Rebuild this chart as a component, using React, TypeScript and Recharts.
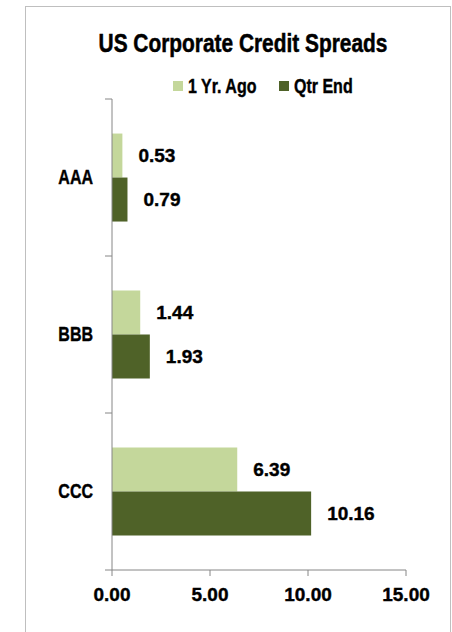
import {
  Bar,
  BarChart,
  LabelList,
  Legend,
  XAxis,
  YAxis,
} from "recharts";

const categories = ["AAA", "BBB", "CCC"];
const yearAgo = [0.53, 1.44, 6.39];
const qtrEnd = [0.79, 1.93, 10.16];
const xTicks = [0, 5, 10, 15];

// no condensed face installed, so letters get squeezed horizontally
const FONT = "'Liberation Sans', Arial, sans-serif";
const SQUEEZE = 0.8;
const LIGHT = "#c4d79b";
const DARK = "#4f6228";
const AXIS = "#868686";

const rows = categories.map((c, i) => ({
  name: c,
  yearAgo: yearAgo[i],
  qtrEnd: qtrEnd[i],
}));

const series = [
  { key: "yearAgo", label: "1 Yr. Ago", color: LIGHT, width: 106 },
  { key: "qtrEnd", label: "Qtr End", color: DARK, width: 80 },
];

const bold = { fontFamily: FONT, fontWeight: "bold", fill: "#000", stroke: "#000", strokeWidth: 0.4 };

function CategoryTick(props: any) {
  const { x, y, payload } = props;
  const half = payload.offset ?? 78.5;
  const last = payload.value === categories[categories.length - 1];
  return (
    <g>
      <line x1={x + 12} x2={x + 19} y1={y - half} y2={y - half} stroke={AXIS} />
      {last && (
        <line x1={x + 12} x2={x + 19} y1={y + half} y2={y + half} stroke={AXIS} />
      )}
      <text
        transform={`translate(${x} ${y}) scale(${SQUEEZE} 1)`}
        textAnchor="end"
        dominantBaseline="central"
        fontSize={20}
        {...bold}
      >
        {payload.value}
      </text>
    </g>
  );
}

function LegendContent() {
  let cx = 0;
  return (
    <svg width={200} height={24} style={{ display: "block" }}>
      {series.map((s) => {
        const x0 = cx;
        cx += s.width;
        return (
          <g key={s.key}>
            <rect x={x0} y={7} width={10} height={10} fill={s.color} />
            <text
              transform={`translate(${x0 + 15} 18.5) scale(${SQUEEZE} 1)`}
              fontSize={20}
              {...bold}
            >
              {s.label}
            </text>
          </g>
        );
      })}
    </svg>
  );
}

export default function App() {
  return (
    <div style={{ position: "absolute", left: 0, top: 0, width: 452, height: 632, background: "#fff", overflow: "hidden" }}>
      <div
        style={{
          position: "absolute",
          left: 25,
          top: 6,
          width: 424,
          height: 640,
          border: "1.5px solid #bfbfbf",
        }}
      />
      <div
        style={{
          position: "absolute",
          left: 43,
          top: 31,
          width: 400,
          textAlign: "center",
          whiteSpace: "nowrap",
          fontFamily: FONT,
          fontWeight: "bold",
          fontSize: 25,
          lineHeight: "25px",
          color: "#000",
          WebkitTextStroke: "0.5px #000",
          transform: "scaleX(0.835)",
          transformOrigin: "200px 0",
        }}
      >
        US Corporate Credit Spreads
      </div>
      <BarChart
        width={452}
        height={632}
        data={rows}
        layout="vertical"
        margin={{ top: 99, right: 46, bottom: 22, left: 0 }}
        barCategoryGap="22%"
        barGap={0}
        style={{ position: "absolute", left: 0, top: 0 }}
      >
        <Legend
          verticalAlign="middle"
          layout="horizontal"
          content={<LegendContent />}
          wrapperStyle={{ top: 74, left: 173, width: 200 }}
        />
        <XAxis
          type="number"
          domain={[0, 15]}
          ticks={xTicks}
          tickFormatter={(v: number) => v.toFixed(2)}
          axisLine={{ stroke: AXIS }}
          tickLine={{ stroke: AXIS }}
          tickSize={6}
          tickMargin={12}
          height={40}
          tick={{ ...bold, fontSize: 19 }}
        />
        <YAxis
          type="category"
          dataKey="name"
          width={112}
          axisLine={{ stroke: AXIS }}
          tickLine={false}
          tickSize={7}
          tickMargin={12}
          tick={<CategoryTick />}
        />
        {series.map((s) => (
          <Bar key={s.key} dataKey={s.key} name={s.label} fill={s.color} isAnimationActive={false}>
            <LabelList
              dataKey={s.key}
              position="right"
              offset={16}
              formatter={(v: number) => v.toFixed(2)}
              {...bold}
              fontSize={19}
            />
          </Bar>
        ))}
      </BarChart>
    </div>
  );
}
